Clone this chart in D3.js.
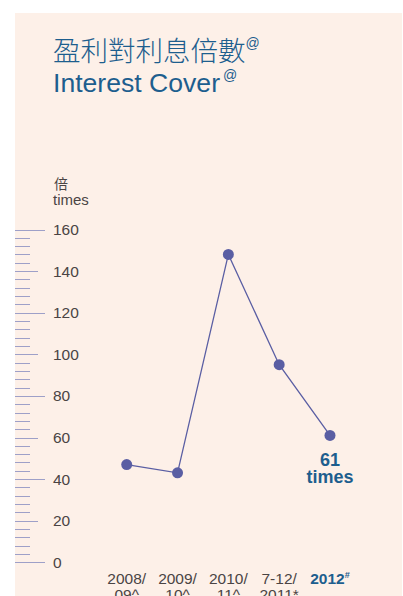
<!DOCTYPE html>
<html><head><meta charset="utf-8">
<script src="https://cdn.jsdelivr.net/npm/d3@7"></script>
<style>body{margin:0;background:#fff;}svg{display:block;}</style>
</head><body>
<svg id="c" width="403" height="596"></svg>
<script>
const categories = [["2008/","09^"],["2009/","10^"],["2010/","11^"],["7-12/","2011*"],["2012#"]];
const values = [47, 43, 148, 95, 61];
const yTicks = [0,20,40,60,80,100,120,140,160];
const minorTicks = d3.range(0,161,4);

const svg = d3.select("#c");
const blue = "#1d5e8e", lineC = "#5a5ea3", tickC = "#9ea0c8", txtC = "#4a4444";
svg.append("rect").attr("x",15).attr("y",13).attr("width",387).attr("height",583).attr("fill","#fdf0e8");

const fontEn = "'Liberation Sans', Arial, sans-serif";
const fontCJK = "'Noto Sans CJK TC', sans-serif";

const t1 = svg.append("text").attr("x",53).attr("y",61).attr("fill",blue)
  .style("font-family",fontCJK).style("font-size","27.5px").style("font-weight",300);
t1.append("tspan").text("盈利對利息倍數");
t1.append("tspan").attr("dy",-13).style("font-size","14px").style("font-family",fontEn).text("@");
const t2 = svg.append("text").attr("x",53).attr("y",92).attr("fill",blue)
  .style("font-family",fontEn).style("font-size","26.6px");
t2.append("tspan").text("Interest Cover");
t2.append("tspan").attr("dx",3).attr("dy",-12).style("font-size","14px").text("@");

svg.append("text").attr("x",54).attr("y",189).attr("fill",txtC).style("font-family",fontCJK).style("font-size","14px").text("倍");
svg.append("text").attr("x",53).attr("y",205).attr("fill",txtC).style("font-family",fontEn).style("font-size","15px").text("times");

const y = d3.scaleLinear().domain([0,160]).range([562.3,229.5]);
const x = d3.scalePoint().domain(d3.range(categories.length)).range([126.7,330]);

// ticks
svg.append("g").selectAll("line").data(minorTicks).join("line")
  .attr("x1",15).attr("x2",d=> d%40===0?45 : d%20===0?38:30)
  .attr("y1",d=>Math.round(y(d))+0.5).attr("y2",d=>Math.round(y(d))+0.5)
  .attr("stroke",tickC).attr("stroke-width",1);
svg.append("g").selectAll("text").data(yTicks).join("text")
  .attr("x",53).attr("y",d=>y(d)+5.5).attr("fill",txtC)
  .style("font-family",fontEn).style("font-size","15.5px").text(d=>d);

// line
const line = d3.line().x((d,i)=>x(i)).y(d=>y(d));
svg.append("path").datum(values).attr("d",line).attr("fill","none").attr("stroke",lineC).attr("stroke-width",1.3);
svg.append("g").selectAll("circle").data(values).join("circle")
  .attr("cx",(d,i)=>x(i)).attr("cy",d=>y(d)).attr("r",5.5).attr("fill",lineC);

// label of last value
const li = values.length-1;
svg.append("text").attr("x",x(li)).attr("y",y(values[li])+31).attr("text-anchor","middle").attr("fill",blue)
  .style("font-family",fontEn).style("font-size","18px").style("font-weight","bold").text(values[li]);
svg.append("text").attr("x",x(li)).attr("y",y(values[li])+48).attr("text-anchor","middle").attr("fill",blue)
  .style("font-family",fontEn).style("font-size","18px").style("font-weight","bold").text("times");

// category labels
categories.forEach((c,i)=>{
  const last = i===li;
  if(last){
    const t = svg.append("text").attr("x",x(i)).attr("y",584).attr("text-anchor","middle").attr("fill",blue)
      .style("font-family",fontEn).style("font-size","15.5px").style("font-weight","bold");
    t.append("tspan").text(c[0].replace("#",""));
    t.append("tspan").attr("dy",-6).style("font-size","9px").text("#");
  } else {
    c.forEach((s,j)=>{
      svg.append("text").attr("x",x(i)).attr("y",584+j*16).attr("text-anchor","middle").attr("fill",txtC)
        .style("font-family",fontEn).style("font-size","15.5px").text(s);
    });
  }
});
</script>
</body></html>
